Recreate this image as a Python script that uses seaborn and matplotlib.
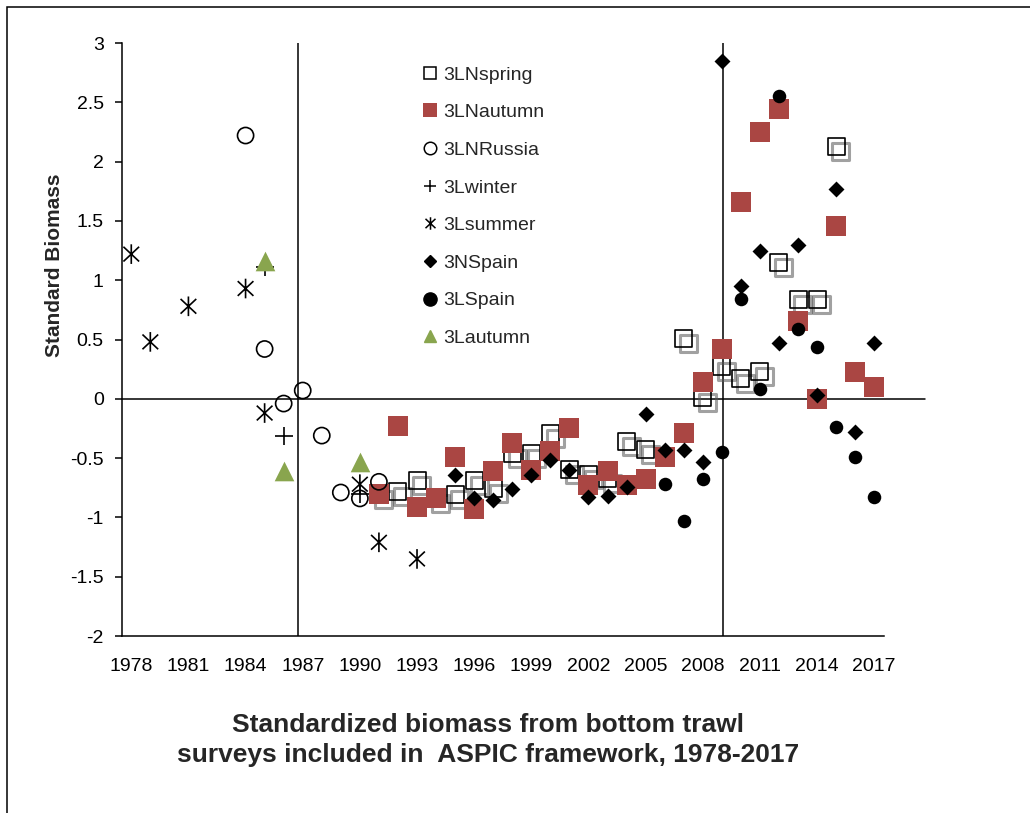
import matplotlib
matplotlib.use("Agg")
import matplotlib.pyplot as plt
import matplotlib.patheffects as pe
from matplotlib.path import Path
from matplotlib.lines import Line2D
from matplotlib.ticker import FixedLocator, FuncFormatter
import seaborn as sns
import pandas as pd

# ---------------- data ----------------
spring_years = [1991, 1992, 1993, 1994, 1995, 1996, 1997, 1998, 1999, 2000, 2001, 2002,
                2003, 2004, 2005, 2007, 2008, 2009, 2010, 2011, 2012, 2013, 2014, 2015]
spring_vals = [-0.81, -0.78, -0.69, -0.84, -0.81, -0.69, -0.76, -0.46, -0.46, -0.29, -0.60, -0.64,
               -0.67, -0.36, -0.43, 0.51, 0.01, 0.27, 0.17, 0.23, 1.15, 0.84, 0.84, 2.13]

autumn_years = list(range(1991, 2018))
autumn_vals = [-0.80, -0.23, -0.91, -0.84, -0.49, -0.93, -0.61, -0.37, -0.60, -0.44, -0.25, -0.73,
               -0.61, -0.73, -0.68, -0.49, -0.29, 0.14, 0.42, 1.66, 2.25, 2.44, 0.66, 0.00,
               1.46, 0.23, 0.10]

russia_years = [1984, 1985, 1986, 1987, 1988, 1989, 1990, 1991]
russia_vals = [2.22, 0.42, -0.04, 0.07, -0.31, -0.79, -0.84, -0.70]

winter_years = [1985, 1986, 1990]
winter_vals = [1.11, -0.31, -0.80]

summer_years = [1978, 1979, 1981, 1984, 1985, 1990, 1991, 1993]
summer_vals = [1.22, 0.48, 0.78, 0.93, -0.12, -0.72, -1.21, -1.35]

nspain_years = list(range(1995, 2018))
nspain_vals = [-0.64, -0.84, -0.85, -0.76, -0.64, -0.52, -0.60, -0.83, -0.82, -0.74, -0.13,
               -0.43, -0.43, -0.53, 2.85, 0.95, 1.25, 0.47, 1.30, 0.03, 1.77, -0.28, 0.47]

lspain_years = list(range(2006, 2018))
lspain_vals = [-0.72, -1.03, -0.68, -0.45, 0.84, 0.08, 2.55, 0.59, 0.44, -0.24, -0.49, -0.83]

lautumn_years = [1985, 1986, 1990]
lautumn_vals = [1.16, -0.61, -0.53]

x_tick_labels = [str(y) for y in range(1978, 2018, 3)]
y_ticks = [-2, -1.5, -1, -0.5, 0, 0.5, 1, 1.5, 2, 2.5, 3]
period_lines = [1986.75, 2009.05]

# ---------------- style ----------------
sns.set_style("white")
plt.rcParams["font.family"] = ["Liberation Sans", "DejaVu Sans"]
plt.rcParams["axes.linewidth"] = 1.1

RED = "#AA4643"
GREEN = "#89A54E"

# star marker: vertical bar + X
star = Path([(0, -1), (0, 1), (-0.8, -0.75), (0.8, 0.75), (-0.8, 0.75), (0.8, -0.75)],
            [Path.MOVETO, Path.LINETO, Path.MOVETO, Path.LINETO, Path.MOVETO, Path.LINETO])

fig = plt.figure(figsize=(10.30, 8.13), dpi=100)
ax = fig.add_axes([0.1182, 0.2177, 0.858 - 0.1182, 0.9471 - 0.2177])

def df(x, y):
    return pd.DataFrame({"year": x, "value": y})

# 3LNspring (open squares with shadow)
sns.scatterplot(data=df(spring_years, spring_vals), x="year", y="value", ax=ax,
                marker="s", s=150, facecolor="none", edgecolor="black", linewidth=1.2, zorder=3)
ax.collections[-1].set_path_effects([
    pe.SimpleLineShadow(offset=(3.5, -3.5), shadow_color="#555555", alpha=0.55, linewidth=2.2),
    pe.Normal()])
# 3LNautumn
sns.scatterplot(data=df(autumn_years, autumn_vals), x="year", y="value", ax=ax,
                marker="s", s=205, color=RED, edgecolor=RED, linewidth=0, zorder=4)
# 3LNRussia
sns.scatterplot(data=df(russia_years, russia_vals), x="year", y="value", ax=ax,
                marker="o", s=135, facecolor="none", edgecolor="black", linewidth=1.2, zorder=5)
# 3Lwinter
sns.scatterplot(data=df(winter_years, winter_vals), x="year", y="value", ax=ax,
                marker="+", s=150, color="black", linewidth=1.2, zorder=6)
# 3Lsummer
sns.scatterplot(data=df(summer_years, summer_vals), x="year", y="value", ax=ax,
                marker=star, s=200, facecolor="none", edgecolor="black", linewidth=1.2, zorder=7)
# 3NSpain
sns.scatterplot(data=df(nspain_years, nspain_vals), x="year", y="value", ax=ax,
                marker="D", s=66, color="black", edgecolor="black", linewidth=0, zorder=8)
# 3LSpain
sns.scatterplot(data=df(lspain_years, lspain_vals), x="year", y="value", ax=ax,
                marker="o", s=95, color="black", edgecolor="black", linewidth=0, zorder=9)
# 3Lautumn
sns.scatterplot(data=df(lautumn_years, lautumn_vals), x="year", y="value", ax=ax,
                marker="^", s=200, color=GREEN, edgecolor=GREEN, linewidth=0, zorder=10)

# reference lines
ax.axhline(0, xmin=0, xmax=1.054, color="black", linewidth=1.1, clip_on=False, zorder=1)
for xv in period_lines:
    ax.axvline(xv, color="black", linewidth=1.1, zorder=1)

# axes
ax.set_xlim(1977.5, 2017.5)
ax.set_ylim(-2, 3)
sns.despine(ax=ax, top=True, right=True)
ax.spines["left"].set_color("black")
ax.spines["bottom"].set_color("black")

ax.xaxis.set_major_locator(FixedLocator(list(range(1978, 2018, 3))))
ax.set_xticklabels(x_tick_labels)
ax.xaxis.set_minor_locator(FixedLocator([1977.5 + 2 * k for k in range(21)]))
ax.tick_params(axis="x", which="major", length=0, pad=16, labelsize=14, colors="black")
ax.tick_params(axis="x", which="minor", length=5, width=1.1, direction="out", color="black")
ax.set_yticks(y_ticks)
ax.yaxis.set_major_formatter(FuncFormatter(lambda v, p: "%g" % v))
ax.tick_params(axis="y", which="major", length=5, width=1.1, direction="out", pad=8,
               labelsize=14, colors="black", left=True)
ax.set_xlabel("")
ax.set_ylabel("")

# labels
fig.text(55 / 1030, 1 - 265 / 813, "Standard Biomass", rotation=90, ha="center", va="center",
         fontsize=15, fontweight="bold")
fig.text(488 / 1030, 1 - 740 / 813,
         "Standardized biomass from bottom trawl\nsurveys included in  ASPIC framework, 1978-2017",
         ha="center", va="center", fontsize=19, fontweight="bold", linespacing=1.35)

# legend
handles = [
    Line2D([], [], linestyle="none", marker="s", markersize=9, markerfacecolor="none",
           markeredgecolor="black", markeredgewidth=1.1),
    Line2D([], [], linestyle="none", marker="s", markersize=10, markerfacecolor=RED,
           markeredgecolor=RED, markeredgewidth=0),
    Line2D([], [], linestyle="none", marker="o", markersize=9, markerfacecolor="none",
           markeredgecolor="black", markeredgewidth=1.1),
    Line2D([], [], linestyle="none", marker="+", markersize=9, color="black", markeredgewidth=1.1),
    Line2D([], [], linestyle="none", marker=star, markersize=9, markerfacecolor="none",
           markeredgecolor="black", markeredgewidth=1.1),
    Line2D([], [], linestyle="none", marker="D", markersize=6.5, color="black"),
    Line2D([], [], linestyle="none", marker="o", markersize=9.5, color="black"),
    Line2D([], [], linestyle="none", marker="^", markersize=9, color=GREEN),
]
labels = ["3LNspring", "3LNautumn", "3LNRussia", "3Lwinter", "3Lsummer", "3NSpain", "3LSpain", "3Lautumn"]
ax.legend(handles, labels, loc="upper left", bbox_to_anchor=(422 / 1030, 1 - 66 / 813),
          bbox_transform=fig.transFigure, frameon=False, fontsize=14, labelspacing=1.03,
          handlelength=0.8, handletextpad=0.3, borderpad=0, borderaxespad=0)

# outer frame (chart area border)
fig.add_artist(plt.Rectangle((7 / 1030, -0.1), 1.2, 1 - 7 / 813 + 0.1, transform=fig.transFigure,
                             fill=False, edgecolor="black", linewidth=1.1))

fig.savefig("out.png", dpi=100, facecolor="white")
